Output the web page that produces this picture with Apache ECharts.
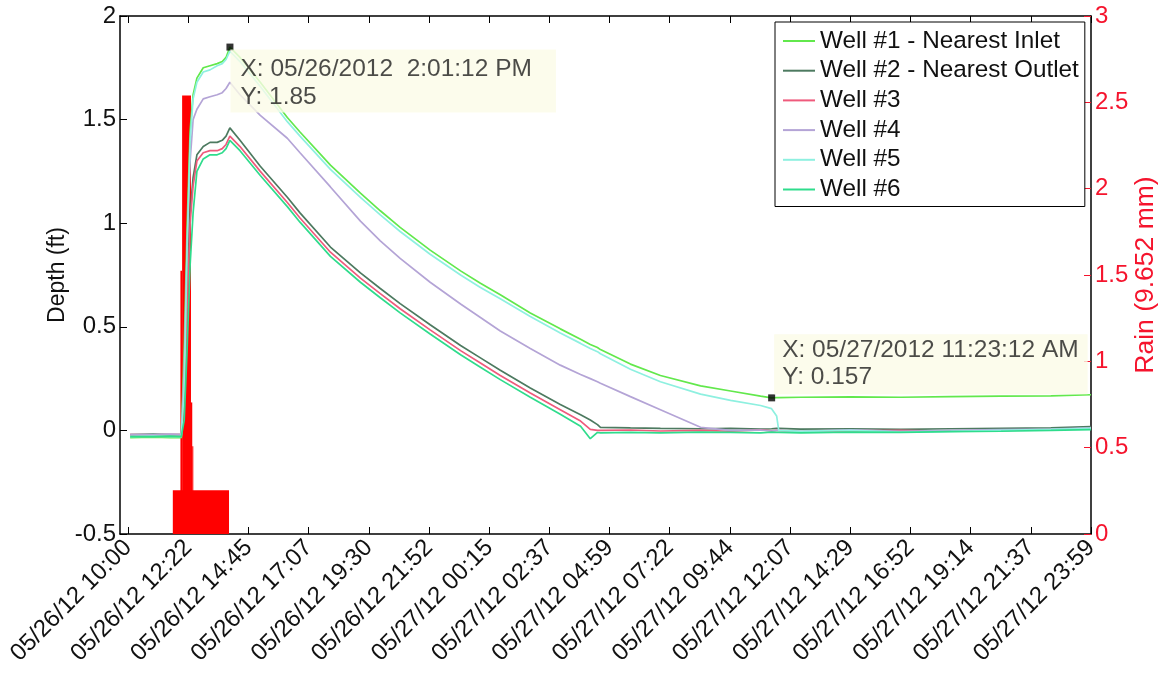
<!DOCTYPE html>
<html><head><meta charset="utf-8">
<script src="https://cdn.jsdelivr.net/npm/echarts@6/dist/echarts.min.js"></script>
<style>html,body{margin:0;padding:0;background:#fff}#c{width:1162px;height:676px}</style>
</head><body><div id="c"></div>
<script>
// ---- data (time = minutes since 05/26/2012 00:00) ----
const tickLabels = ['05/26/12 10:00','05/26/12 12:22','05/26/12 14:45','05/26/12 17:07','05/26/12 19:30','05/26/12 21:52','05/27/12 00:15','05/27/12 02:37','05/27/12 04:59','05/27/12 07:22','05/27/12 09:44','05/27/12 12:07','05/27/12 14:29','05/27/12 16:52','05/27/12 19:14','05/27/12 21:37','05/27/12 23:59'];
const tickStart = 600;   // 05/26 10:00
const tickEnd = 2879;    // 05/27 23:59
const axisMin = 581;
const axisMax = 2879;

const wellNames = ['Well #1 - Nearest Inlet','Well #2 - Nearest Outlet','Well #3','Well #4','Well #5','Well #6'];

const times = [605,660,700,726,733,740,747,754,763,778,794,811,823,832,841,865,913,977,1007,1079,1150,1197,1244,1315,1387,1434,1481,1552,1623,1671,1694,1711,1718,1789,1860,1955,2026,2097,2123,2135,2140,2192,2310,2429,2547,2666,2784,2879];

const well1 = [-0.035,-0.033,-0.035,-0.035,0.40,1.00,1.45,1.62,1.70,1.75,1.76,1.77,1.78,1.80,1.85,1.80,1.68,1.51,1.44,1.28,1.145,1.06,0.98,0.87,0.77,0.71,0.655,0.567,0.49,0.44,0.415,0.40,0.39,0.32,0.265,0.215,0.19,0.165,0.157,0.158,0.158,0.16,0.162,0.16,0.163,0.165,0.167,0.172];
const well2 = [-0.02,-0.018,-0.02,-0.02,0.2,0.7,1.05,1.22,1.33,1.37,1.39,1.39,1.40,1.42,1.46,1.40,1.275,1.125,1.05,0.885,0.76,0.685,0.612,0.51,0.41,0.35,0.29,0.205,0.125,0.075,0.05,0.028,0.015,0.012,0.01,0.008,0.01,0.006,0.008,0.01,0.01,0.006,0.008,0.005,0.008,0.01,0.012,0.018];
const well3 = [-0.02,-0.022,-0.02,-0.02,0.15,0.6,1.0,1.18,1.30,1.34,1.35,1.35,1.36,1.38,1.42,1.37,1.25,1.10,1.025,0.86,0.735,0.66,0.587,0.485,0.385,0.325,0.265,0.18,0.10,0.045,0.005,0.0,0.0,0.002,-0.003,0.0,-0.004,0.003,-0.002,0.0,0.0,-0.006,-0.002,0.0,-0.004,0.0,0.004,0.008];
const well4 = [-0.02,-0.02,-0.018,-0.02,0.3,0.9,1.3,1.5,1.55,1.60,1.61,1.62,1.63,1.65,1.68,1.62,1.52,1.41,1.34,1.175,1.01,0.915,0.83,0.715,0.61,0.545,0.48,0.395,0.315,0.27,0.25,0.235,0.228,0.163,0.10,0.015,0.0,0.002,-0.003,0.0,0.0,-0.005,0.003,-0.004,0.0,0.004,0.006,0.012];
const well5 = [-0.03,-0.028,-0.03,-0.03,0.20,0.90,1.40,1.60,1.68,1.73,1.74,1.76,1.77,1.79,1.83,1.78,1.66,1.49,1.42,1.26,1.125,1.04,0.96,0.85,0.75,0.69,0.635,0.55,0.47,0.42,0.395,0.38,0.37,0.295,0.235,0.175,0.145,0.12,0.105,0.07,0.0,-0.005,0.0,-0.008,-0.005,0.0,0.005,0.01];
const well6 = [-0.03,-0.03,-0.028,-0.03,0.05,0.4,0.8,1.05,1.25,1.31,1.33,1.33,1.34,1.36,1.40,1.35,1.23,1.08,1.005,0.84,0.715,0.64,0.567,0.465,0.365,0.305,0.245,0.16,0.078,0.02,-0.04,-0.01,-0.012,-0.01,-0.012,-0.008,-0.01,-0.012,-0.008,-0.01,-0.01,-0.012,-0.008,-0.01,-0.006,-0.004,0.0,0.004];

const rainStart = [706, 724, 728, 749, 752];
const rainEnd   = [839, 728, 749, 752, 754.5];
const rainMM    = [0.254, 1.524, 2.54, 0.762, 0.508];

const tipTimes  = [841.2, 2123.2];
const tipValues = [1.85, 0.157];
const tipLines  = [['X: 05/26/2012  2:01:12 PM','Y: 1.85'],['X: 05/27/2012 11:23:12 AM','Y: 0.157']];

// ---- chart ----
const FONT = 'Liberation Sans, Arial, Helvetica, sans-serif';
const wellColors = ['#62e84c','#4d7a60','#ef5a7c','#b4a4d6','#8ef0e0','#2fdc8c'];
const rainColor = '#ff0000';
const rightColor = '#f5142d';
const tickStep = (tickEnd - tickStart) / (tickLabels.length - 1);
const tickValues = tickLabels.map((_, i) => tickStart + i * tickStep);

const wells = [well1, well2, well3, well4, well5, well6];
const lineSeries = wells.map((w, k) => ({
  name: wellNames[k],
  type: 'line',
  xAxisIndex: 0, yAxisIndex: 0,
  symbol: 'none',
  z: 3,
  lineStyle: { color: wellColors[k], width: 1.7 },
  itemStyle: { color: wellColors[k] },
  data: times.map((t, i) => [t, w[i]])
}));

const rainSeries = {
  name: 'Rain', type: 'custom', xAxisIndex: 0, yAxisIndex: 1, z: 2,
  data: rainStart.map((s, i) => [s, rainEnd[i], rainMM[i]]),
  encode: { x: [0, 1], y: 2 },
  renderItem: function (params, api) {
    const p0 = api.coord([api.value(0), 0]);
    const p1 = api.coord([api.value(1), api.value(2)]);
    return { type: 'rect', shape: { x: p0[0], y: p1[1], width: p1[0] - p0[0], height: p0[1] - p1[1] },
             style: { fill: rainColor } };
  }
};

const tipSeries = {
  name: 'tips', type: 'scatter', xAxisIndex: 0, yAxisIndex: 0, z: 10,
  symbol: 'rect', symbolSize: 7, itemStyle: { color: '#000' },
  data: tipTimes.map((t, i) => ({
    value: [t, tipValues[i]],
    label: {
      show: true,
      formatter: tipLines[i].join('\n'),
      position: i === 0 ? [4, 6] : [6, 0],
      align: 'left',
      verticalAlign: i === 0 ? 'top' : 'bottom',
      backgroundColor: '#fbfbe7',
      padding: i === 0 ? [6, 24, 1, 10] : [2, 9, 4, 8],
      fontFamily: FONT, fontSize: 24.5, lineHeight: i === 0 ? 28 : 27, color: '#1e1e1e'
    }
  }))
};

const chart = echarts.init(document.getElementById('c'), null, { renderer: 'canvas' });
chart.setOption({
  animation: false,
  backgroundColor: '#fff',
  textStyle: { fontFamily: FONT },
  grid: { left: 120, right: 71, top: 16, bottom: 142, containLabel: false, outerBoundsMode: 'none' },
  legend: {
    data: wellNames, orient: 'vertical', left: 775, top: 22,
    icon: 'rect',
    backgroundColor: '#fff', borderColor: '#000', borderWidth: 1,
    padding: [6, 6, 4, 8], itemWidth: 32, itemHeight: 2, itemGap: 3.7,
    textStyle: { fontFamily: FONT, fontSize: 24.3, lineHeight: 26, color: '#111' }
  },
  xAxis: [{
    type: 'value', min: axisMin, max: axisMax, position: 'bottom',
    axisLine: { show: true, onZero: false, lineStyle: { color: '#000', width: 1.5 } },
    axisTick: { show: true, inside: true, length: 7, customValues: tickValues, lineStyle: { color: '#000' } },
    axisLabel: { customValues: tickValues, rotate: 45, fontSize: 24, color: '#111', margin: 10, fontFamily: FONT,
      formatter: v => tickLabels[Math.round((v - tickStart) / tickStep)] },
    splitLine: { show: false }
  }, {
    type: 'value', min: axisMin, max: axisMax, position: 'top',
    axisLine: { show: true, onZero: false, lineStyle: { color: '#000', width: 1.5 } },
    axisTick: { show: true, inside: true, length: 7, customValues: tickValues, lineStyle: { color: '#000' } },
    axisLabel: { show: false }, splitLine: { show: false }
  }],
  yAxis: [{
    type: 'value', min: -0.5, max: 2, interval: 0.5, position: 'left',
    name: 'Depth (ft)', nameLocation: 'middle', nameGap: 51, nameRotate: 90, nameMoveOverlap: false,
    nameTextStyle: { fontSize: 23, color: '#111', fontFamily: FONT },
    axisLine: { show: true, onZero: false, lineStyle: { color: '#000', width: 1.5 } },
    axisTick: { show: true, inside: true, length: 7, lineStyle: { color: '#000' } },
    axisLabel: { fontSize: 24, color: '#111', margin: 4, fontFamily: FONT },
    splitLine: { show: false }
  }, {
    type: 'value', min: 0, max: 3, interval: 0.5, position: 'right',
    name: 'Rain (9.652 mm)', nameLocation: 'middle', nameGap: 41, nameRotate: 90, nameMoveOverlap: false,
    nameTextStyle: { fontSize: 26.5, color: rightColor, fontFamily: FONT },
    axisLine: { show: true, onZero: false, lineStyle: { color: '#000', width: 1.5 } },
    axisTick: { show: true, inside: true, length: 7, lineStyle: { color: rightColor } },
    axisLabel: { fontSize: 24, color: rightColor, margin: 4, fontFamily: FONT },
    splitLine: { show: false }
  }],
  series: [rainSeries].concat(lineSeries, [tipSeries])
});
</script></body></html>
